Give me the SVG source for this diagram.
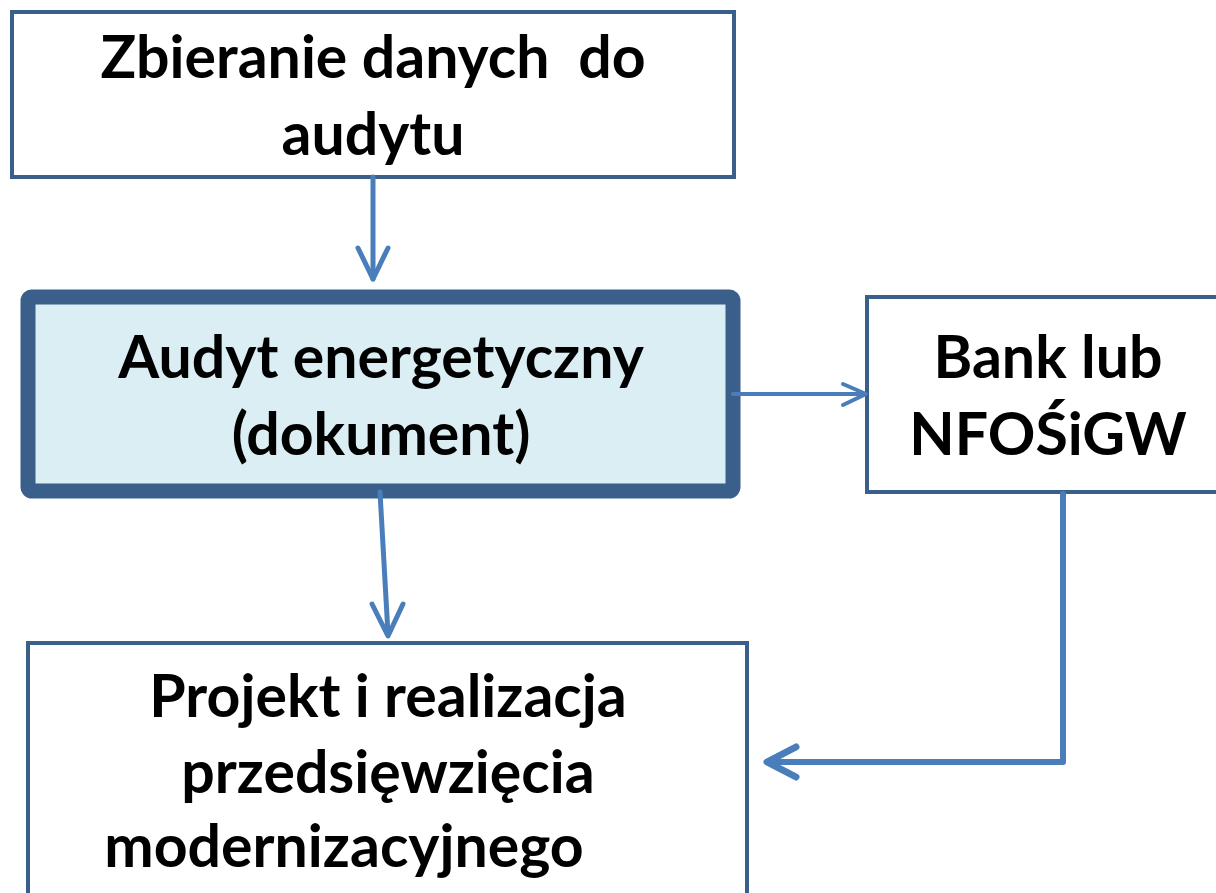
<svg xmlns="http://www.w3.org/2000/svg" width="1216" height="893" viewBox="0 0 1216 893">
<style>
.box{fill:#ffffff;stroke:#3a5f8b;stroke-width:4}
.main{fill:#daeef3;stroke:#3a5f8b;stroke-width:15}
.t{font-family:Lato,"Liberation Sans",sans-serif;font-weight:bold;font-size:59px;fill:#000;text-anchor:middle;white-space:pre}
.c{fill:none;stroke:#4a7ebb;stroke-linecap:round;stroke-linejoin:round}
</style>
<rect width="1216" height="893" fill="#ffffff"/>
<g id="n1">
<rect class="box" x="12" y="12" width="722" height="165"/>
<text class="t" x="373" y="78" xml:space="preserve">Zbieranie danych  do</text>
<text class="t" x="373" y="155">audytu</text>
</g>
<g id="n2">
<rect class="main" x="28" y="297" width="705" height="194" rx="4"/>
<text class="t" x="381" y="378">Audyt energetyczny</text>
<text class="t" x="381" y="455">(dokument)</text>
</g>
<g id="n3">
<rect class="box" x="867" y="297" width="360" height="195"/>
<text class="t" x="1048" y="378">Bank lub</text>
<text class="t" x="1048" y="455">NFOŚiGW</text>
</g>
<g id="n4">
<rect class="box" x="28" y="643" width="719" height="270"/>
<text class="t" x="388" y="717">Projekt i realizacja</text>
<text class="t" x="388" y="793">przedsięwzięcia</text>
<text class="t" x="344" y="867">modernizacyjnego</text>
</g>
<g id="connectors">
<path class="c" stroke-width="5" d="M373 177V279" stroke-linecap="butt"/>
<path class="c" stroke-width="5" d="M358 248L373 279L388 248"/>
<path class="c" stroke-width="5" d="M380 492L388 634" stroke-linecap="butt"/>
<path class="c" stroke-width="5" d="M372 604L388 636L403 604"/>
<path class="c" stroke-width="4" d="M733 394H865" stroke-linecap="butt"/>
<path class="c" stroke-width="4" d="M843 384L866 394L843 405"/>
<path class="c" stroke-width="6" d="M1063 494V762H768" stroke-linecap="butt" stroke-linejoin="miter"/>
<path class="c" stroke-width="7" d="M796 747L767 762L796 777"/>
</g>
</svg>
